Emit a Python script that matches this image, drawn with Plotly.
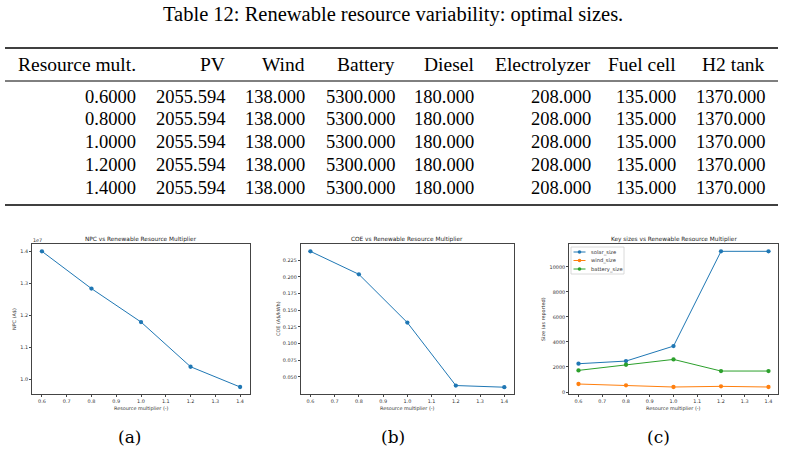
import plotly.graph_objects as go

W, H = 785, 452

# ---------------- data ----------------
mult = [0.6, 0.8, 1.0, 1.2, 1.4]
npc = [1.401e7, 1.284e7, 1.179e7, 1.0386e7, 0.975e7]
coe = [0.2385, 0.204, 0.1315, 0.037, 0.0345]
solar_size = [2261, 2473, 3670, 11250, 11250]
wind_size = [638, 532, 399, 452, 399]
battery_size = [1729, 2181, 2606, 1676, 1676]

table_title = "Table 12: Renewable resource variability: optimal sizes."
table_headers = ["Resource mult.", "PV", "Wind", "Battery", "Diesel",
                 "Electrolyzer", "Fuel cell", "H2 tank"]
col_mult = ["0.6000", "0.8000", "1.0000", "1.2000", "1.4000"]
col_pv = ["2055.594", "2055.594", "2055.594", "2055.594", "2055.594"]
col_wind = ["138.000", "138.000", "138.000", "138.000", "138.000"]
col_battery = ["5300.000", "5300.000", "5300.000", "5300.000", "5300.000"]
col_diesel = ["180.000", "180.000", "180.000", "180.000", "180.000"]
col_elec = ["208.000", "208.000", "208.000", "208.000", "208.000"]
col_fc = ["135.000", "135.000", "135.000", "135.000", "135.000"]
col_h2 = ["1370.000", "1370.000", "1370.000", "1370.000", "1370.000"]

x_ticks = [0.6, 0.7, 0.8, 0.9, 1.0, 1.1, 1.2, 1.3, 1.4]
npc_ticks = [1.0e7, 1.1e7, 1.2e7, 1.3e7, 1.4e7]
npc_ticktext = ["1.0", "1.1", "1.2", "1.3", "1.4"]
coe_ticks = [0.05, 0.075, 0.1, 0.125, 0.15, 0.175, 0.2, 0.225]
size_ticks = [0, 2000, 4000, 6000, 8000, 10000]

captions = ["(a)", "(b)", "(c)"]
titles = ["NPC vs Renewable Resource Multiplier",
          "COE vs Renewable Resource Multiplier",
          "Key sizes vs Renewable Resource Multiplier"]
ylabels = ["NPC (A$)", "COE (A$/kWh)", "Size (as reported)"]

BLUE, ORANGE, GREEN = "#1f77b4", "#ff7f0e", "#2ca02c"


def px(x):
    return x / W


def py(y):
    return 1 - y / H


SERIF = "Liberation Serif"
SERIF2 = "DejaVu Serif"
SANS = "DejaVu Sans"
FS = 4.9
FT = 5.8

fig = go.Figure()

fig.add_trace(go.Scatter(x=mult, y=npc, xaxis="x", yaxis="y",
                         line=dict(color=BLUE, width=1), marker=dict(color=BLUE, size=4.3),
                         mode="lines+markers", showlegend=False))
fig.add_trace(go.Scatter(x=mult, y=coe, xaxis="x2", yaxis="y2",
                         line=dict(color=BLUE, width=1), marker=dict(color=BLUE, size=4.3),
                         mode="lines+markers", showlegend=False))
for name, vals, col in [("solar_size", solar_size, BLUE),
                        ("wind_size", wind_size, ORANGE),
                        ("battery_size", battery_size, GREEN)]:
    fig.add_trace(go.Scatter(x=mult, y=vals, xaxis="x3", yaxis="y3", name=name,
                             line=dict(color=col, width=1), marker=dict(color=col, size=4.3),
                             mode="lines+markers", showlegend=False))

# domains in pixels
doms = [(32, 250), (300.7, 514), (569, 778)]
ytop, ybot = 244, 394

axis_common = dict(showline=True, mirror=True, linecolor="#444", linewidth=0.8,
                   ticks="outside", ticklen=2, tickwidth=0.7, tickcolor="#444",
                   showgrid=False, zeroline=False,
                   tickfont=dict(family=SANS, size=FS, color="#333"))

yranges = [[0.953e7, 1.424e7], [0.0243, 0.2495], [-160, 11835]]
ytickcfg = [dict(tickvals=npc_ticks, ticktext=npc_ticktext),
            dict(tickvals=coe_ticks, tickformat=".3f"),
            dict(tickvals=size_ticks, tickformat="d")]

layout = dict(width=W, height=H, margin=dict(l=0, r=0, t=0, b=0),
              paper_bgcolor="white", plot_bgcolor="white", showlegend=False)
for i, (l, r) in enumerate(doms):
    sx = "" if i == 0 else str(i + 1)
    layout["xaxis" + sx] = dict(domain=[px(l), px(r)], range=[0.56, 1.44],
                                tickvals=x_ticks, tickformat=".1f",
                                anchor="y" + sx, **axis_common)
    layout["yaxis" + sx] = dict(domain=[py(ybot), py(ytop)], range=yranges[i],
                                anchor="x" + sx, **axis_common, **ytickcfg[i])
fig.update_layout(**layout)

ann = []
shapes = []
# table title
ann.append(dict(text=table_title, x=px(393), y=py(14), xref="paper", yref="paper",
                showarrow=False, xanchor="center", yanchor="middle",
                font=dict(family=SERIF, size=20.5, color="black")))
# rules
for yy, w in [(48, 1.6), (81, 1.0), (205, 1.6)]:
    shapes.append(dict(type="line", xref="paper", yref="paper",
                       x0=px(5), x1=px(778), y0=py(yy), y1=py(yy),
                       line=dict(color="black", width=w)))
col_right = [138, 227, 307, 397, 476, 593, 678, 767]
columns = [col_mult, col_pv, col_wind, col_battery, col_diesel, col_elec, col_fc, col_h2]
row_y = [97, 119.5, 142, 165, 188]
for j, h in enumerate(table_headers):
    ann.append(dict(text=h, x=px(col_right[j]), y=py(64), xref="paper", yref="paper",
                    showarrow=False, xanchor="right", yanchor="middle",
                    font=dict(family=SERIF, size=19.5, color="black")))
    for i, v in enumerate(columns[j]):
        ann.append(dict(text=v, x=px(col_right[j]), y=py(row_y[i]), xref="paper", yref="paper",
                        showarrow=False, xanchor="right", yanchor="middle",
                        font=dict(family=SERIF, size=18.5, color="black")))

# subplot decorations
ylab_x = [14, 278, 543]
cap_x = [129, 393, 658]
for i, (l, r) in enumerate(doms):
    cx = (l + r) / 2
    ann.append(dict(text=titles[i], x=px(cx), y=py(239), xref="paper", yref="paper",
                    showarrow=False, xanchor="center", yanchor="middle",
                    font=dict(family=SANS, size=FT, color="#222")))
    ann.append(dict(text="Resource multiplier (-)", x=px(cx), y=py(408), xref="paper",
                    yref="paper", showarrow=False, xanchor="center", yanchor="middle",
                    font=dict(family=SANS, size=FS, color="#333")))
    ann.append(dict(text=ylabels[i], x=px(ylab_x[i]), y=py((ytop + ybot) / 2), xref="paper",
                    yref="paper", showarrow=False, xanchor="center", yanchor="middle",
                    textangle=-90, font=dict(family=SANS, size=FS, color="#333")))
    ann.append(dict(text=captions[i], x=px(cap_x[i]), y=py(437), xref="paper", yref="paper",
                    showarrow=False, xanchor="center", yanchor="middle",
                    font=dict(family=SERIF2, size=17, color="black")))
ann.append(dict(text="1e7", x=px(37), y=py(240.5), xref="paper", yref="paper",
                showarrow=False, xanchor="center", yanchor="middle",
                font=dict(family=SANS, size=FS, color="#333")))

# legend (panel c)
shapes.append(dict(type="rect", xref="paper", yref="paper", x0=px(571), x1=px(624),
                   y0=py(274), y1=py(247), line=dict(color="#d0d0d0", width=0.8),
                   fillcolor="rgba(255,255,255,0.85)", layer="above"))
leg = [("solar_size", BLUE, 252), ("wind_size", ORANGE, 260.5), ("battery_size", GREEN, 269)]
for name, col, yy in leg:
    shapes.append(dict(type="line", xref="paper", yref="paper", x0=px(573.5), x1=px(585.5),
                       y0=py(yy), y1=py(yy), line=dict(color=col, width=1), layer="above"))
    shapes.append(dict(type="circle", xref="paper", yref="paper", x0=px(577.7), x1=px(581.3),
                       y0=py(yy + 1.8), y1=py(yy - 1.8), line=dict(color=col, width=0),
                       fillcolor=col, layer="above"))
    ann.append(dict(text=name, x=px(589), y=py(yy), xref="paper", yref="paper",
                    showarrow=False, xanchor="left", yanchor="middle",
                    font=dict(family=SANS, size=5.2, color="#333")))

fig.update_layout(annotations=ann, shapes=shapes)
fig.write_html("out.html")
